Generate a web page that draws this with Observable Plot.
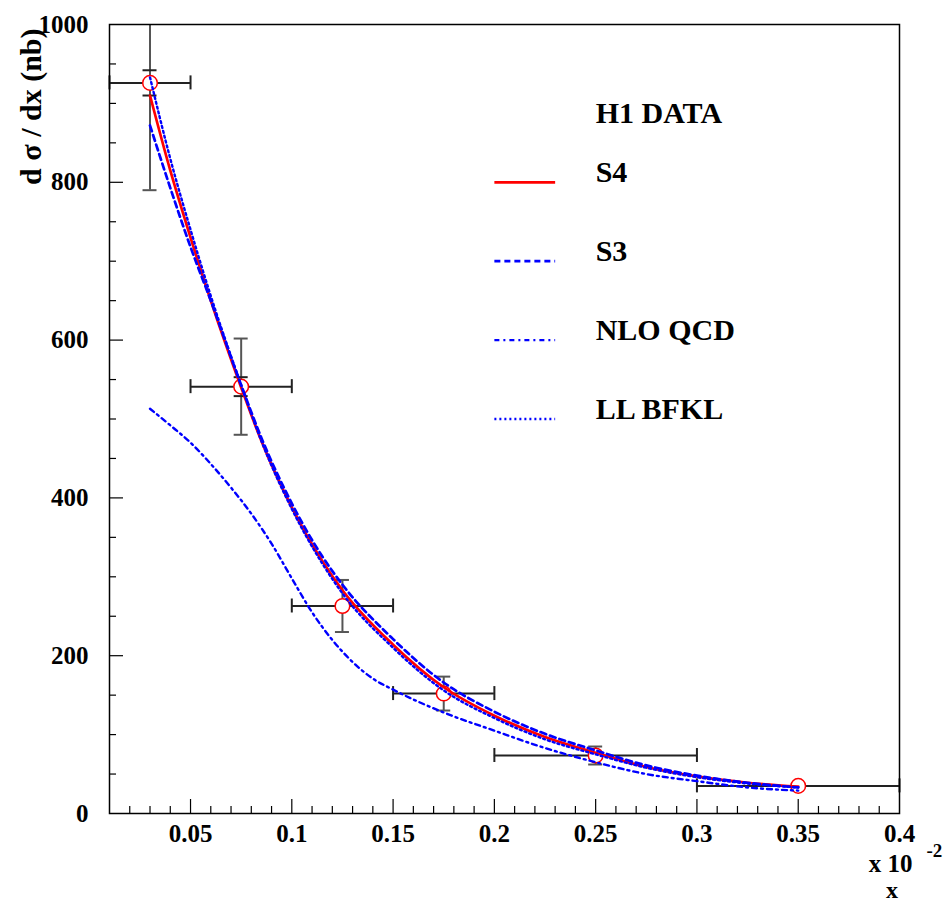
<!DOCTYPE html>
<html>
<head>
<meta charset="utf-8">
<script src="https://cdn.jsdelivr.net/npm/d3@7"></script>
<script src="https://cdn.jsdelivr.net/npm/@observablehq/plot@0.6"></script>
<style>
  html, body { margin: 0; padding: 0; background: #fff; }
  svg { display: block; }
  svg text { font-family: 'Liberation Serif', 'Times New Roman', Times, serif; font-weight: bold; }
</style>
</head>
<body>
<div id="chart"></div>
<script>
// ---------- DATA ----------
// H1 data points (x in units of 10^-2)
const binLow  = [0.01, 0.05, 0.10, 0.15, 0.20, 0.30];
const binHigh = [0.05, 0.10, 0.15, 0.20, 0.30, 0.40];
const dataX   = [0.03, 0.075, 0.125, 0.175, 0.25, 0.35];
const dataY   = [926, 541, 263, 152, 73.5, 35];
const errTot  = [136, 61, 33, 21.5, 11.4, 2];
const errStat = [16, 12, 0, 0, 0, 0];

// Model curves
const curveX = [0.03, 0.04, 0.05, 0.06, 0.075, 0.085, 0.10, 0.115, 0.125, 0.15, 0.175, 0.20, 0.225, 0.25, 0.275, 0.30, 0.325, 0.35];
const s4     = [910, 815, 730, 650, 540, 472, 388, 320, 283, 214, 160, 124, 97, 77, 59, 47, 39, 34];
const s3     = [872, 793, 718, 650, 543, 476, 393, 326, 290, 221, 166, 129, 101, 80, 61, 48, 39, 33];
const bfkl   = [933, 830, 740, 656, 543, 472, 386, 317, 279, 210, 156, 121, 94, 75, 58, 46, 38, 33];
const nloX   = [0.03, 0.04, 0.05, 0.06, 0.07, 0.08, 0.09, 0.10, 0.11, 0.12, 0.13, 0.14, 0.15, 0.175, 0.20, 0.225, 0.25, 0.275, 0.30, 0.325, 0.35];
const nlo    = [513, 492, 470, 443, 413, 380, 342, 298, 255, 220, 192, 171, 157, 128, 105, 83, 65, 50, 41, 33, 29];

// Ticks and labels
const xTickValues = [0.05, 0.1, 0.15, 0.2, 0.25, 0.3, 0.35, 0.4];
const yTickValues = [0, 200, 400, 600, 800, 1000];
const legendLabels = ["H1 DATA", "S4", "S3", "NLO QCD", "LL BFKL"];
const yLabel = "d \u03c3 / dx (nb)";

// ---------- LAYOUT / STYLE ----------
const W = 947, H = 904;
const M = {left: 109, right: 48, top: 24, bottom: 91};
const innerW = W - M.left - M.right, innerH = H - M.top - M.bottom;
const FONT = "'Liberation Serif', 'Times New Roman', Times, serif";
const styles = {
  "S4":      {stroke: "#ff0000", strokeWidth: 2.7, strokeDasharray: null},
  "S3":      {stroke: "#0000ff", strokeWidth: 2.7, strokeDasharray: "6,4"},
  "NLO QCD": {stroke: "#0000ff", strokeWidth: 2.4, strokeDasharray: "5,4,2,4"},
  "LL BFKL": {stroke: "#0000ff", strokeWidth: 2.4, strokeDasharray: "2,3"}
};
const T = {fontFamily: FONT, fontWeight: "bold", fill: "#000"};
// legend placement (user coordinates)
const LEG = {lineX1: 0.2, lineX2: 0.23, textX: 0.25, rows: [875, 800, 700, 600, 500]};

// ---------- BUILD ----------
const points = dataX.map((x, i) => ({x, y: dataY[i], lo: binLow[i], hi: binHigh[i], et: errTot[i], es: errStat[i]}));
const mk = (xs, ys, name) => xs.map((x, i) => ({x, y: ys[i], name}));
const series = [
  ...mk(curveX, s4, "S4"),
  ...mk(curveX, s3, "S3"),
  ...mk(nloX, nlo, "NLO QCD"),
  ...mk(curveX, bfkl, "LL BFKL")
];

const hCaps = points.flatMap(p => [{x: p.lo, y: p.y}, {x: p.hi, y: p.y}]);
const vCapsTot = points.flatMap(p => [{x: p.x, y: p.y - p.et}, {x: p.x, y: p.y + p.et}]).filter(d => d.y <= 1000);
const vCapsStat = points.filter(p => p.es > 0).flatMap(p => [{x: p.x, y: p.y - p.es}, {x: p.x, y: p.y + p.es}]);

const xMinor = d3.range(2, 40).map(v => v / 100).filter(v => Math.round(v * 100) % 5 !== 0);
const xMajor = xTickValues.filter(v => v < 0.4);
const yMinor = d3.range(50, 1000, 50).filter(v => v % 200 !== 0);
const yMajor = yTickValues.filter(v => v > 0 && v < 1000);

const legendRows = legendLabels.map((label, i) => ({label, y: LEG.rows[i]}));
const legendLines = legendRows.filter(d => styles[d.label]);

const marks = [
  // ticks (inside)
  Plot.ruleX(xMinor, {x: d => d, stroke: "#000", strokeWidth: 1.2, insetTop: innerH - 7}),
  Plot.ruleX(xMajor, {x: d => d, stroke: "#000", strokeWidth: 1.2, insetTop: innerH - 14}),
  Plot.ruleY(yMinor, {y: d => d, stroke: "#000", strokeWidth: 1.2, insetRight: innerW - 7}),
  Plot.ruleY(yMajor, {y: d => d, stroke: "#000", strokeWidth: 1.2, insetRight: innerW - 14}),

  // error bars
  Plot.ruleY(points, {y: "y", x1: "lo", x2: "hi", stroke: "#222", strokeWidth: 2}),
  Plot.ruleX(hCaps, {x: "x", y1: "y", y2: "y", insetTop: -7, insetBottom: -7, stroke: "#222", strokeWidth: 2}),
  Plot.ruleX(points, {x: "x", y1: d => d.y - d.et, y2: d => Math.min(d.y + d.et, 1000), stroke: "#555", strokeWidth: 2}),
  Plot.ruleY(vCapsTot, {y: "y", x1: "x", x2: "x", insetLeft: -7, insetRight: -7, stroke: "#555", strokeWidth: 2}),
  Plot.ruleY(vCapsStat, {y: "y", x1: "x", x2: "x", insetLeft: -7, insetRight: -7, stroke: "#222", strokeWidth: 2}),
  Plot.dot(points, {x: "x", y: "y", r: 7.3, stroke: "#ff0000", fill: "white", strokeWidth: 1.5}),

  // curves
  ...Object.keys(styles).map(name =>
    Plot.line(series.filter(d => d.name === name), {x: "x", y: "y", curve: "monotone-x", ...styles[name]})
  ),

  // legend
  ...legendLines.map(d =>
    Plot.link([d], {x1: () => LEG.lineX1, x2: () => LEG.lineX2, y1: "y", y2: "y", ...styles[d.label]})
  ),
  Plot.text(legendRows, {x: () => LEG.textX, y: "y", text: "label", textAnchor: "start", lineAnchor: "bottom", fontSize: 30, ...T}),

  // axis labels
  Plot.axisX(xTickValues, {tickSize: 0, tickPadding: 11, tickFormat: d => String(d), fontSize: 25, label: null, ...T}),
  Plot.axisY(yTickValues, {tickSize: 0, tickPadding: 21, tickFormat: d => String(d), fontSize: 25, label: null, ...T}),
  Plot.text([yLabel], {text: d => d, frameAnchor: "top-left", dx: -69, dy: 4, rotate: -90, textAnchor: "end", lineAnchor: "bottom", fontSize: 30, ...T}),
  Plot.text(["x 10"], {text: d => d, frameAnchor: "bottom-right", dx: 13, dy: 58, textAnchor: "end", lineAnchor: "bottom", fontSize: 25, ...T}),
  Plot.text(["-2"], {text: d => d, frameAnchor: "bottom-right", dx: 27, dy: 43, textAnchor: "start", lineAnchor: "bottom", fontSize: 19, ...T}),
  Plot.text(["x"], {text: d => d, frameAnchor: "bottom-right", dx: -7.5, dy: 84, textAnchor: "middle", lineAnchor: "bottom", fontSize: 24, ...T}),

  Plot.frame({stroke: "#000", strokeWidth: 1.5})
];

const chart = Plot.plot({
  width: W,
  height: H,
  marginLeft: M.left,
  marginRight: M.right,
  marginTop: M.top,
  marginBottom: M.bottom,
  x: {type: "linear", domain: [0.01, 0.4], label: null},
  y: {type: "linear", domain: [0, 1000], label: null},
  style: `font-family: ${FONT}; font-weight: bold; font-size: 25px; background: #fff; color: #000; overflow: visible;`,
  marks
});
document.getElementById("chart").appendChild(chart);
</script>
</body>
</html>
